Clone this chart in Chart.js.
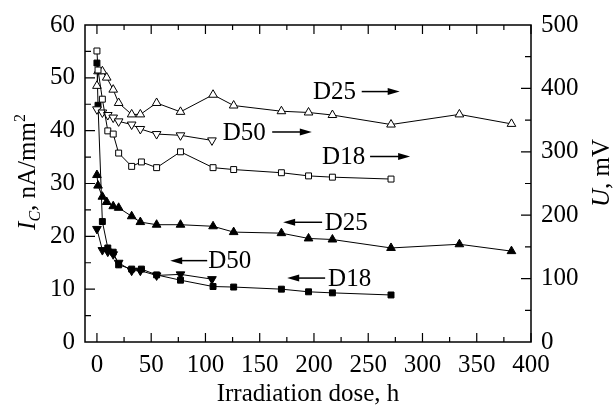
<!DOCTYPE html>
<html lang="en">
<head>
<meta charset="UTF-8">
<title>Ic and U versus irradiation dose</title>
<script src="https://cdn.jsdelivr.net/npm/chart.js"></script>
<style>
  body { margin: 0; padding: 0; background: #fff; }
  canvas { display: block; }
</style>
</head>
<body>
<canvas id="chart" width="613" height="409"></canvas>
<script>
// tick labels
const xTickVals = [0, 50, 100, 150, 200, 250, 300, 350, 400];
const icTickVals = [0, 10, 20, 30, 40, 50, 60];
const uTickVals = [0, 100, 200, 300, 400, 500];

// D18 (squares): open = U (right axis), filled = Ic (left axis)
const doseD18 = [0, 1, 5, 10, 15, 20, 32, 41, 55, 77, 107, 126, 170, 195, 217, 271];
const uD18 = [459, 429, 383, 333, 328, 298, 277, 284, 275, 300, 275, 272, 267, 262, 260, 257];
const icD18 = [52.8, 44.8, 22.8, 17.8, 17.0, 14.6, 13.8, 13.8, 12.7, 11.7, 10.5, 10.4, 10.0, 9.5, 9.3, 8.9];

// D25 (up triangles)
const doseD25 = [0, 1, 5, 9, 15, 20, 32, 40, 55, 77, 107, 126, 170, 195, 217, 271, 334, 382];
const uD25 = [404, 427, 427, 417, 398, 377, 359, 359, 377, 363, 390, 373, 364, 362, 358, 343, 359, 344];
const icD25 = [31.6, 29.6, 27.5, 26.5, 25.7, 25.4, 23.8, 22.7, 22.2, 22.2, 21.9, 20.8, 20.6, 19.6, 19.4, 17.8, 18.5, 17.2];

// D50 (down triangles)
const doseD50 = [0, 5, 10, 15, 20, 32, 40, 55, 77, 106];
const uD50 = [367, 362, 358, 354, 348, 343, 336, 328, 326, 318];
const icD50 = [21.4, 17.4, 17.1, 16.6, 15.0, 13.5, 13.5, 12.6, 12.8, 11.9];

// arrow labels: text start (h), level (Ic units), arrow from -> tip (h)
const notes = [
  { text: 'D25', tx: 199, y: 47.4, from: 244, to: 279 },
  { text: 'D50', tx: 116, y: 39.75, from: 161.5, to: 198 },
  { text: 'D18', tx: 207.5, y: 35.1, from: 251.7, to: 288.6 },
  { text: 'D25', tx: 210, y: 22.66, from: 207.5, to: 171.6 },
  { text: 'D50', tx: 102.5, y: 15.4, from: 101.6, to: 67.5 },
  { text: 'D18', tx: 213, y: 12.1, from: 210.3, to: 175.3 }
];

const SERIF = '"Liberation Serif", "DejaVu Serif", serif';

function pts(xs, ys) {
  return xs.map((x, i) => ({ x: x, y: ys[i] }));
}

function series(label, xs, ys, axis, style, filled, rot) {
  return {
    label: label,
    data: pts(xs, ys),
    yAxisID: axis,
    borderColor: '#000',
    borderWidth: 1,
    tension: 0,
    fill: false,
    pointStyle: style,
    pointRotation: rot || 0,
    pointRadius: style === 'rect' ? 4.2 : 5,
    pointBorderWidth: 1,
    pointBorderColor: '#000',
    pointBackgroundColor: filled ? '#000' : '#fff',
    clip: false
  };
}

function setTicks(vals) {
  return scale => { scale.ticks = vals.map(v => ({ value: v })); };
}

const frame = {
  id: 'frame',
  beforeDatasetsDraw(chart) {
    const { ctx, chartArea: a, scales } = chart;
    ctx.save();
    ctx.strokeStyle = '#000';
    ctx.lineWidth = 1.5;
    ctx.strokeRect(a.left, a.top, a.right - a.left, a.bottom - a.top);
    ctx.lineWidth = 1.2;
    ctx.beginPath();
    for (let v = 0; v <= 400; v += 25) {
      const x = scales.x.getPixelForValue(v);
      const len = v % 50 === 0 ? 9 : 5;
      ctx.moveTo(x, a.bottom); ctx.lineTo(x, a.bottom - len);
      ctx.moveTo(x, a.top); ctx.lineTo(x, a.top + len);
    }
    for (let v = 5; v < 60; v += 5) {
      const y = scales.yI.getPixelForValue(v);
      const len = v % 10 === 0 ? 10 : 6;
      ctx.moveTo(a.left, y); ctx.lineTo(a.left + len, y);
    }
    for (let v = 50; v < 500; v += 50) {
      const y = scales.yU.getPixelForValue(v);
      const len = v % 100 === 0 ? 10 : 6;
      ctx.moveTo(a.right, y); ctx.lineTo(a.right - len, y);
    }
    ctx.stroke();
    ctx.restore();
  },
  afterDatasetsDraw(chart) {
    const { ctx, chartArea: a, scales } = chart;
    ctx.save();
    ctx.fillStyle = '#000';
    ctx.strokeStyle = '#000';
    ctx.textBaseline = 'middle';
    ctx.font = '25px ' + SERIF;
    notes.forEach(n => {
      const y = scales.yI.getPixelForValue(n.y);
      const tx = scales.x.getPixelForValue(n.tx);
      ctx.fillText(n.text, tx, y + 1);
      const x1 = scales.x.getPixelForValue(n.from);
      const x2 = scales.x.getPixelForValue(n.to);
      const dir = x2 > x1 ? 1 : -1;
      ctx.lineWidth = 1.5;
      ctx.beginPath();
      ctx.moveTo(x1, y);
      ctx.lineTo(x2 - dir * 8, y);
      ctx.stroke();
      ctx.beginPath();
      ctx.moveTo(x2, y);
      ctx.lineTo(x2 - dir * 12, y - 3.5);
      ctx.lineTo(x2 - dir * 12, y + 3.5);
      ctx.closePath();
      ctx.fill();
    });

    // x title
    ctx.textAlign = 'center';
    ctx.fillText('Irradiation dose, h', (a.left + a.right) / 2, 394);

    // left title: I_C, nA/mm^2 (rotated)
    const runs = [
      { t: 'I', f: 'italic 25px ' + SERIF, dy: 0 },
      { t: 'C', f: 'italic 16px ' + SERIF, dy: 5 },
      { t: ', nA/mm', f: '25px ' + SERIF, dy: 0 },
      { t: '2', f: '16px ' + SERIF, dy: -10 }
    ];
    ctx.textAlign = 'left';
    ctx.textBaseline = 'alphabetic';
    let total = 0;
    runs.forEach(r => { ctx.font = r.f; r.w = ctx.measureText(r.t).width; total += r.w; });
    ctx.save();
    ctx.translate(35, 172 + total / 2);
    ctx.rotate(-Math.PI / 2);
    let cx = 0;
    runs.forEach(r => { ctx.font = r.f; ctx.fillText(r.t, cx, r.dy); cx += r.w; });
    ctx.restore();

    // right title: U, mV (rotated)
    const rr = [
      { t: 'U', f: 'italic 25px ' + SERIF },
      { t: ', mV', f: '25px ' + SERIF }
    ];
    total = 0;
    rr.forEach(r => { ctx.font = r.f; r.w = ctx.measureText(r.t).width; total += r.w; });
    ctx.save();
    ctx.translate(609, 173 + total / 2);
    ctx.rotate(-Math.PI / 2);
    cx = 0;
    rr.forEach(r => { ctx.font = r.f; ctx.fillText(r.t, cx, 0); cx += r.w; });
    ctx.restore();
    ctx.restore();
  }
};

const tickFont = { family: SERIF, size: 25 };

new Chart(document.getElementById('chart'), {
  type: 'line',
  data: {
    datasets: [
      series('D18 U', doseD18, uD18, 'yU', 'rect', false),
      series('D25 U', doseD25, uD25, 'yU', 'triangle', false),
      series('D50 U', doseD50, uD50, 'yU', 'triangle', false, 180),
      series('D18 Ic', doseD18, icD18, 'yI', 'rect', true),
      series('D25 Ic', doseD25, icD25, 'yI', 'triangle', true),
      series('D50 Ic', doseD50, icD50, 'yI', 'triangle', true, 180)
    ]
  },
  options: {
    responsive: false,
    devicePixelRatio: 1,
    animation: false,
    layout: { padding: { top: 19, left: 0, right: 0, bottom: 0 } },
    plugins: { legend: { display: false }, tooltip: { enabled: false } },
    scales: {
      x: {
        type: 'linear', position: 'bottom', min: -11, max: 400,
        afterBuildTicks: setTicks(xTickVals),
        afterFit: s => { s.height = 67; },
        grid: { display: false, drawTicks: false },
        border: { display: false },
        ticks: { color: '#000', font: tickFont, padding: 8, maxRotation: 0, autoSkip: false }
      },
      yI: {
        type: 'linear', position: 'left', min: 0, max: 60,
        afterBuildTicks: setTicks(icTickVals),
        afterFit: s => { s.width = 85; },
        grid: { display: false, drawTicks: false },
        border: { display: false },
        ticks: { color: '#000', font: tickFont, padding: 10 }
      },
      yU: {
        type: 'linear', position: 'right', min: 0, max: 500,
        afterBuildTicks: setTicks(uTickVals),
        afterFit: s => { s.width = 82; },
        grid: { display: false, drawTicks: false },
        border: { display: false },
        ticks: { color: '#000', font: tickFont, padding: 10 }
      }
    }
  },
  plugins: [frame]
});
</script>
</body>
</html>
